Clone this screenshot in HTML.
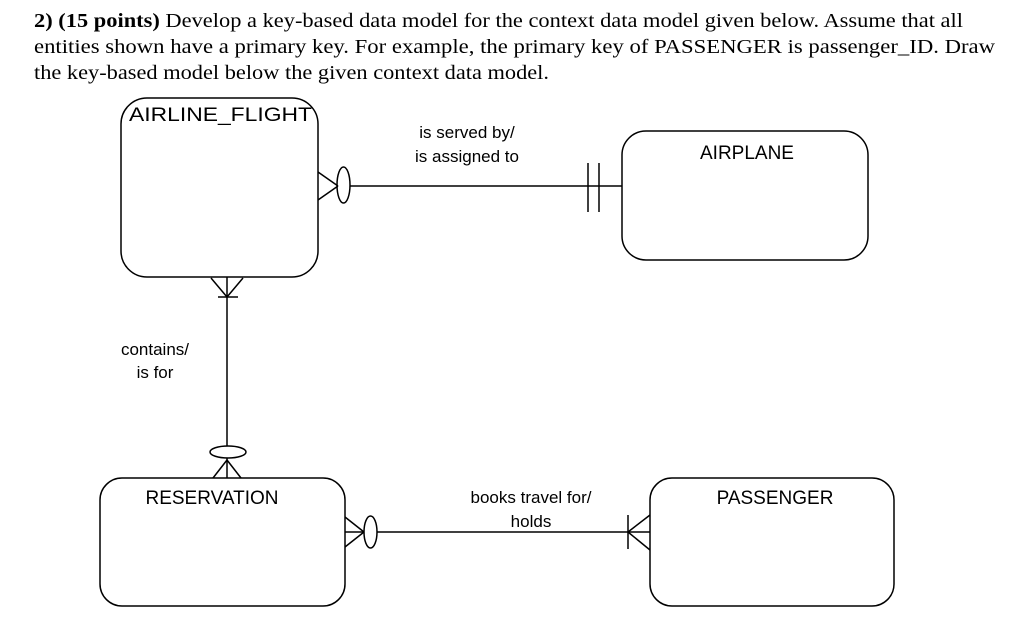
<!DOCTYPE html>
<html><head><meta charset="utf-8"><style>
html,body{margin:0;padding:0;background:#fff;width:1024px;height:635px;overflow:hidden}
svg{display:block}
</style></head><body>
<svg width="1024" height="635" viewBox="0 0 1024 635" xmlns="http://www.w3.org/2000/svg">
<g font-family="Liberation Serif, serif" font-size="19.5" fill="#000">
<text x="34" y="27" textLength="929" lengthAdjust="spacingAndGlyphs"><tspan font-weight="bold">2) (15 points)</tspan> Develop a key-based data model for the context data model given below. Assume that all</text>
<text x="34" y="53" textLength="961" lengthAdjust="spacingAndGlyphs">entities shown have a primary key.  For example, the primary key of PASSENGER is passenger_ID.  Draw</text>
<text x="34" y="79" textLength="515" lengthAdjust="spacingAndGlyphs">the key-based model below the given context data model.</text>
</g>
<g fill="none" stroke="#000" stroke-width="1.5">
<rect x="121" y="98" width="197" height="179" rx="26"/>
<rect x="622" y="131" width="246" height="129" rx="24"/>
<rect x="100" y="478" width="245" height="128" rx="22"/>
<rect x="650" y="478" width="244" height="128" rx="22"/>
<!-- AF - AIRPLANE -->
<line x1="318" y1="172" x2="338" y2="186"/>
<line x1="318" y1="200" x2="338" y2="186"/>
<ellipse cx="343.5" cy="185" rx="6.5" ry="18"/>
<line x1="350" y1="186" x2="622" y2="186"/>
<line x1="588" y1="163" x2="588" y2="212"/>
<line x1="599" y1="163" x2="599" y2="212"/>
<!-- AF - RESERVATION -->
<line x1="227" y1="277" x2="227" y2="446"/>
<line x1="211" y1="278" x2="227" y2="297"/>
<line x1="243" y1="278" x2="227" y2="297"/>
<line x1="218" y1="297" x2="238" y2="297"/>
<ellipse cx="228" cy="452" rx="18" ry="6"/>
<line x1="227" y1="458" x2="227" y2="478"/>
<line x1="227" y1="460" x2="213" y2="478"/>
<line x1="227" y1="460" x2="241" y2="478"/>
<!-- RES - PASSENGER -->
<line x1="345" y1="517" x2="364" y2="532"/>
<line x1="345" y1="547" x2="364" y2="532"/>
<line x1="345" y1="532" x2="364" y2="532"/>
<ellipse cx="370.5" cy="532" rx="6.5" ry="16"/>
<line x1="377" y1="532" x2="650" y2="532"/>
<line x1="650" y1="515" x2="628" y2="532"/>
<line x1="650" y1="550" x2="628" y2="532"/>
<line x1="628" y1="515" x2="628" y2="549"/>
</g>
<g font-family="Liberation Sans, sans-serif" fill="#000">
<text x="129" y="121" font-size="19.5" textLength="183" lengthAdjust="spacingAndGlyphs">AIRLINE_FLIGHT</text>
<text x="747" y="159" font-size="19" text-anchor="middle">AIRPLANE</text>
<text x="212" y="504" font-size="19" text-anchor="middle">RESERVATION</text>
<text x="775" y="504" font-size="19" text-anchor="middle">PASSENGER</text>
<g font-size="17" text-anchor="middle">
<text x="467" y="138">is served by/</text>
<text x="467" y="162">is assigned to</text>
<text x="155" y="355">contains/</text>
<text x="155" y="378">is for</text>
<text x="531" y="503">books travel for/</text>
<text x="531" y="527">holds</text>
</g>
</g>
</svg>
</body></html>
